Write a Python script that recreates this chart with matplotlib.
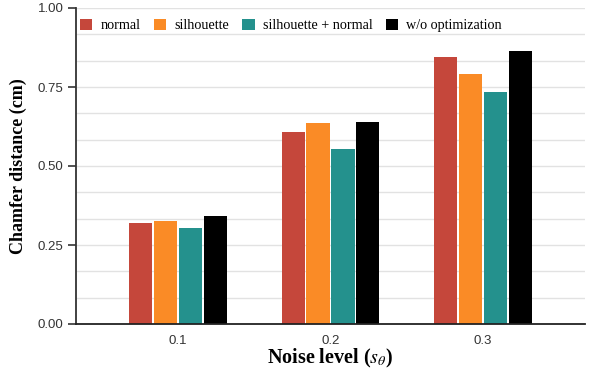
import matplotlib
matplotlib.use("Agg")
import matplotlib.pyplot as plt
import numpy as np
from matplotlib.patches import Patch

plt.rcParams["mathtext.fontset"] = "stix"

categories = ["0.1", "0.2", "0.3"]
series_names = ["normal", "silhouette", "silhouette + normal", "w/o optimization"]
normal = [0.319, 0.607, 0.846]
silhouette = [0.325, 0.635, 0.791]
silhouette_normal = [0.303, 0.553, 0.733]
wo_optimization = [0.343, 0.639, 0.863]
colors = ["#C5473B", "#FA8B26", "#24918D", "#000000"]
y_ticks = [0.0, 0.25, 0.5, 0.75, 1.0]
y_tick_labels = ["0.00", "0.25", "0.50", "0.75", "1.00"]

series = [normal, silhouette, silhouette_normal, wo_optimization]

fig = plt.figure(figsize=(5.98, 3.70), dpi=100)
ax = fig.add_axes([76/598, 46/370, (585-76)/598, (324-8)/370])

x = np.arange(len(categories))
step = 0.164
width = 0.151
for i, (vals, c) in enumerate(zip(series, colors)):
    ax.bar(x + (i - 1.5) * step, vals, width=width, color=c, zorder=3,
           linewidth=0)

ax.set_xlim(-0.67, 2.67)
ax.set_ylim(0, 1.0)

# gridlines every 1/12
for g in np.arange(1, 13) / 12:
    ax.axhline(g, color="#e2e2e2", linewidth=1.0, zorder=1)

ax.set_yticks(y_ticks)
ax.set_yticklabels(y_tick_labels, fontfamily="Liberation Sans", fontsize=9.5, color="#333333")
ax.set_xticks(x)
ax.set_xticklabels(categories, fontfamily="Liberation Sans", fontsize=9.5, color="#333333")
ax.tick_params(axis="y", length=6, width=1.2, color="#333333", pad=3)
ax.tick_params(axis="x", length=0, pad=8)

for s in ["top", "right"]:
    ax.spines[s].set_visible(False)
ax.spines["left"].set_color("#333333")
ax.spines["left"].set_linewidth(1.3)
ax.spines["bottom"].set_color("#222222")
ax.spines["bottom"].set_linewidth(1.3)
ax.spines["left"].set_zorder(4)
ax.spines["bottom"].set_zorder(4)

ax.set_ylabel("Chamfer distance (cm)", fontfamily="Liberation Serif", fontweight="bold",
              fontsize=13, labelpad=8)
ax.set_xlabel(r"Noise level ($s_{\theta}$)", fontfamily="Liberation Serif", fontweight="bold",
              fontsize=14.5, labelpad=0)

handles = [Patch(facecolor=c, edgecolor="none") for c in colors]
leg = ax.legend(handles, series_names, ncol=4, loc="upper left",
                bbox_to_anchor=(-0.013, 1.0), frameon=False,
                prop={"family": "Liberation Serif", "size": 10.2},
                handlelength=0.86, handleheight=0.86, handletextpad=0.58,
                columnspacing=0.95, borderaxespad=0.35)

fig.savefig("out.png", dpi=100)
